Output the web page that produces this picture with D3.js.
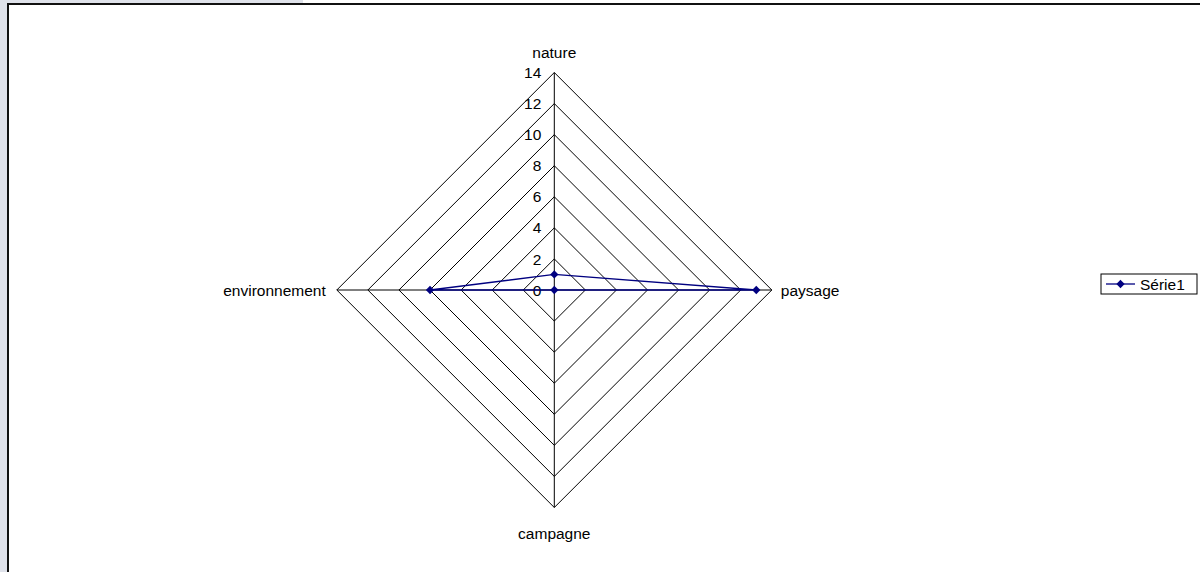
<!DOCTYPE html>
<html>
<head>
<meta charset="utf-8">
<script src="https://cdn.jsdelivr.net/npm/d3@7"></script>
<style>
  body { margin: 0; background: #dfe2ea; }
  svg { display: block; font-family: "Liberation Sans", Arial, sans-serif; }
</style>
</head>
<body>
<div id="chart"></div>
<script>
// data
var categories = ['nature', 'paysage', 'campagne', 'environnement'];
var values = [1, 13, 0, 8];
var tickValues = [0, 2, 4, 6, 8, 10, 12, 14];
var seriesName = 'Série1';

var width = 1200, height = 572;
var cx = 554.3, cy = 290;
var navy = '#000080';

var svg = d3.select('#chart').append('svg')
    .attr('width', width)
    .attr('height', height);

// window frame
svg.append('rect').attr('x', 303).attr('y', 0).attr('width', width).attr('height', 4).attr('fill', '#fff');
svg.append('rect')
    .attr('x', 8).attr('y', 4)
    .attr('width', width + 10).attr('height', height + 10)
    .attr('fill', '#fff')
    .attr('stroke', '#111')
    .attr('stroke-width', 2);

var r = d3.scaleLinear().domain([0, 14]).range([0, 217.5]);
var angle = d3.scaleBand().domain(categories).range([0, 2 * Math.PI]).align(0).paddingInner(0);
function pt(c, v) {
    var a = angle(c);
    return [cx + r(v) * Math.sin(a), cy - r(v) * Math.cos(a)];
}

var g = svg.append('g');

// rings
tickValues.slice(1).forEach(function (t) {
    g.append('polygon')
        .attr('points', categories.map(function (c) { return pt(c, t).join(','); }).join(' '))
        .attr('fill', 'none')
        .attr('stroke', '#000')
        .attr('stroke-width', 1);
});

// spokes
categories.forEach(function (c) {
    var p = pt(c, 14);
    g.append('line')
        .attr('x1', cx).attr('y1', cy)
        .attr('x2', p[0]).attr('y2', p[1])
        .attr('stroke', '#000').attr('stroke-width', 1);
});

// tick labels
g.selectAll('.tick')
    .data(tickValues)
    .enter().append('text')
    .attr('x', cx - 13)
    .attr('y', function (d) { return cy - r(d); })
    .attr('dy', '0.36em')
    .attr('text-anchor', 'end')
    .attr('font-size', '15.5px')
    .text(function (d) { return d; });

// category labels
var labelPos = {
    nature: { dx: 0, dy: -20, anchor: 'middle' },
    paysage: { dx: 9, dy: 0, anchor: 'start' },
    campagne: { dx: 0, dy: 26, anchor: 'middle' },
    environnement: { dx: -11, dy: 0, anchor: 'end' }
};
categories.forEach(function (c) {
    var p = pt(c, 14), o = labelPos[c];
    g.append('text')
        .attr('x', p[0] + o.dx)
        .attr('y', p[1] + o.dy)
        .attr('dy', '0.36em')
        .attr('text-anchor', o.anchor)
        .attr('font-size', '15.5px')
        .text(c);
});

// series
var pts = categories.map(function (c, i) { return pt(c, values[i]); });
g.append('path')
    .attr('d', d3.line()(pts) + 'Z')
    .attr('fill', 'none')
    .attr('stroke', navy)
    .attr('stroke-width', 1.3);

var diamond = d3.symbol().type(d3.symbolDiamond2).size(44);
g.selectAll('.marker')
    .data(pts)
    .enter().append('path')
    .attr('transform', function (d) { return 'translate(' + d[0] + ',' + d[1] + ')'; })
    .attr('d', diamond)
    .attr('fill', navy);

// legend
var lg = svg.append('g').attr('transform', 'translate(1101,274)');
lg.append('rect')
    .attr('width', 96).attr('height', 20)
    .attr('fill', '#fff').attr('stroke', '#000').attr('stroke-width', 1);
lg.append('line')
    .attr('x1', 5).attr('x2', 34).attr('y1', 10).attr('y2', 10)
    .attr('stroke', navy).attr('stroke-width', 1.3);
lg.append('path')
    .attr('transform', 'translate(19.5,10)')
    .attr('d', diamond)
    .attr('fill', navy);
lg.append('text')
    .attr('x', 39).attr('y', 10)
    .attr('dy', '0.36em')
    .attr('font-size', '15.5px')
    .text(seriesName);
</script>
</body>
</html>
